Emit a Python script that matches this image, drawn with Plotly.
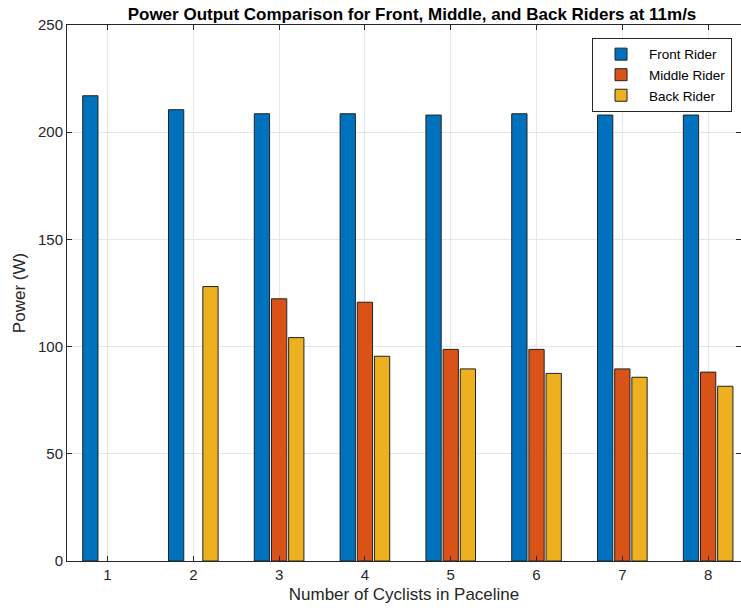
import plotly.graph_objects as go

cyclists = [1, 2, 3, 4, 5, 6, 7, 8]
front_rider = [217.0, 210.5, 208.6, 208.6, 208.0, 208.6, 208.0, 208.0]
middle_rider = [None, None, 122.3, 120.7, 98.7, 98.7, 89.6, 88.1]
back_rider = [None, 128.0, 104.2, 95.5, 89.6, 87.5, 85.7, 81.5]

series = [
    ("Front Rider", front_rider, "#0072BD"),
    ("Middle Rider", middle_rider, "#D95319"),
    ("Back Rider", back_rider, "#EDB120"),
]

FONT = "Liberation Sans, Arial, Helvetica, sans-serif"
AX = "#262626"

W, H = 741, 614

fig = go.Figure()
for name, vals, col in series:
    fig.add_trace(go.Bar(
        x=cyclists, y=vals, name=name,
        marker=dict(color=col, line=dict(color="#222222", width=1)),
    ))

fig.update_layout(
    width=W, height=H,
    margin=dict(l=67, r=0, t=25, b=53, autoexpand=False),
    paper_bgcolor="white", plot_bgcolor="white",
    barmode="group", bargap=0.4, bargroupgap=0.11,
    font=dict(family=FONT, size=15, color=AX),
    title=dict(
        text="<b>Power Output Comparison for Front, Middle, and Back Riders at 11m/s</b>",
        x=412 / W, xref="container", xanchor="center", y=1 - 14 / H, yref="container", yanchor="middle",
        font=dict(family=FONT, size=17, color="black"),
    ),
    legend=dict(
        x=0.779, xanchor="left", y=0.976, yanchor="top",
        bgcolor="white", bordercolor=AX, borderwidth=1,
        font=dict(family=FONT, size=13.5, color="black"),
        tracegroupgap=0, itemwidth=46,
    ),
    showlegend=True,
)

fig.update_xaxes(
    range=[0.528, 8.383], tickvals=cyclists, ticktext=[str(c) for c in cyclists],
    showgrid=True, gridcolor="#e6e6e6", gridwidth=1,
    showline=True, linecolor=AX, linewidth=1, mirror="allticks",
    ticks="inside", ticklen=5, tickcolor=AX,
    zeroline=False, automargin=False,
    title=dict(text="Number of Cyclists in Paceline", font=dict(family=FONT, size=17, color=AX), standoff=6),
    tickfont=dict(size=15, color=AX),
)
fig.update_yaxes(
    range=[0, 250], tickvals=[0, 50, 100, 150, 200, 250],
    showgrid=True, gridcolor="#e6e6e6", gridwidth=1,
    showline=True, linecolor=AX, linewidth=1, mirror="allticks",
    ticks="inside", ticklen=5, tickcolor=AX,
    zeroline=False, automargin=False,
    title=dict(text="Power (W)", font=dict(family=FONT, size=17, color=AX), standoff=8),
    tickfont=dict(size=15, color=AX),
)

fig.write_html(
    "out.html",
    config={"displayModeBar": False},
    post_script="document.body.style.margin='0px';",
)
